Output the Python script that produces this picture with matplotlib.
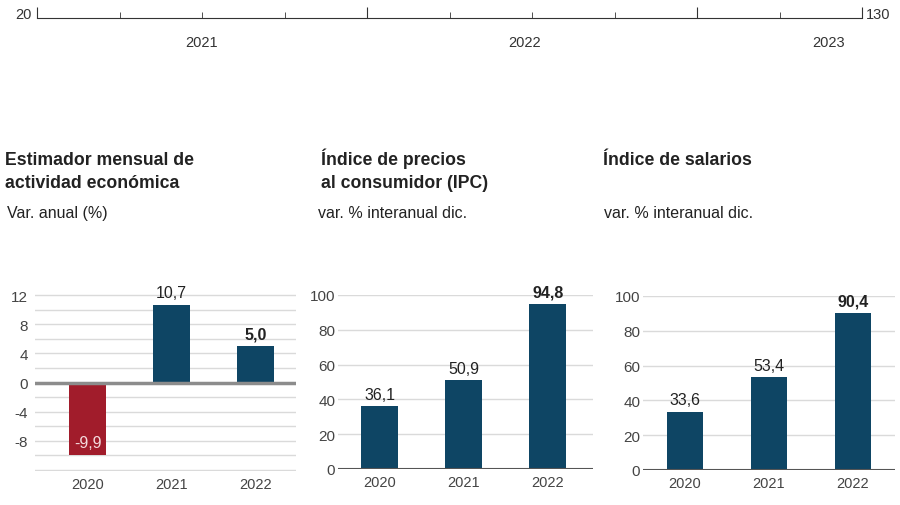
import numpy as np
import matplotlib.pyplot as plt

plt.rcParams['font.family'] = ['Liberation Sans', 'DejaVu Sans']
plt.rcParams['axes.unicode_minus'] = False

# datos
years = ['2020', '2021', '2022']
emae = [-9.9, 10.7, 5.0]
ipc = [36.1, 50.9, 94.8]
salarios = [33.6, 53.4, 90.4]

# escala superior
timeline_ticks = [20, 31, 42, 53, 64, 75, 86, 97, 108, 119, 130]
timeline_major = [20, 64, 108, 130]
timeline_years = ['2021', '2022', '2023']
timeline_year_pos = [42, 85, 125.5]

BLUE = '#0e4564'
RED = '#a11c2b'
GRID = '#dadada'
TXT = '#222222'
TICK = '#444444'

W, H = 900, 506
fig = plt.figure(figsize=(W / 100, H / 100), dpi=100)


def px_axes(left, top, right, bottom):
    return fig.add_axes([left / W, 1 - bottom / H, (right - left) / W, (bottom - top) / H])


def fmt(v):
    return f'{v:.1f}'.replace('.', ',')


# --- escala superior ---
ax0 = px_axes(37, 5, 862, 19)
ax0.set_xlim(20, 130)
ax0.set_ylim(0, 1)
for s in ['top', 'left', 'right']:
    ax0.spines[s].set_visible(False)
ax0.spines['bottom'].set_color('#333333')
ax0.set_yticks([])
ax0.set_xticks(timeline_major)
ax0.set_xticks(timeline_ticks, minor=True)
ax0.tick_params(axis='x', which='major', direction='in', length=8, color='#333333', labelbottom=False)
ax0.tick_params(axis='x', which='minor', direction='in', length=4, color='#333333')
ax0.annotate('20', (20, 0), xycoords=('data', 'axes fraction'), xytext=(-4, 3),
             textcoords='offset points', ha='right', va='center', fontsize=10.5, color='#333333')
ax0.annotate('130', (130, 0), xycoords=('data', 'axes fraction'), xytext=(3, 3),
             textcoords='offset points', ha='left', va='center', fontsize=10.5, color='#333333')
for pos, lbl in zip(timeline_year_pos, timeline_years):
    ax0.annotate(lbl, (pos, 0), xycoords=('data', 'axes fraction'), xytext=(0, -17),
                 textcoords='offset points', ha='center', va='center', fontsize=10.5, color='#333333')


def panel(ax, values, colors, ylim, major, minor, ypad):
    x = np.arange(len(values))
    ax.bar(x, values, width=0.44, color=colors, zorder=3)
    ax.set_ylim(*ylim)
    ax.set_yticks(major)
    ax.set_yticks(minor, minor=True)
    ax.grid(axis='y', which='both', color=GRID, lw=1, zorder=0)
    ax.tick_params(axis='y', which='both', length=0, pad=ypad, labelsize=11, labelcolor=TICK)
    ax.set_xticks(x, years)
    ax.tick_params(axis='x', length=0, pad=4, labelsize=10.5, labelcolor=TICK)
    for s in ax.spines.values():
        s.set_visible(False)


# --- panel 1: EMAE ---
ax1 = px_axes(35, 295, 296, 472)
panel(ax1, emae, [RED, BLUE, BLUE], (-12.15, 12.15), [-8, -4, 0, 4, 8, 12],
      np.arange(-12, 13, 2), 5)
ax1.set_xlim(-0.625, 2.48)
ax1.axhline(0, color='#8c8c8c', lw=2.5, zorder=4)
for i, v in enumerate(emae):
    if v < 0:
        ax1.annotate(fmt(v), (i, v), xytext=(0, 3), textcoords='offset points',
                     ha='center', va='bottom', fontsize=11.5, color='#f4dadd', zorder=5)
    else:
        ax1.annotate(fmt(v), (i, v), xytext=(0, 3), textcoords='offset points',
                     ha='center', va='bottom', fontsize=11.5, color=TXT,
                     fontweight='bold' if i == len(emae) - 1 else 'normal')

# --- panel 2: IPC ---
ax2 = px_axes(338, 296, 593, 470)
panel(ax2, ipc, [BLUE] * 3, (0, 100), [0, 20, 40, 60, 80, 100], [], 2)
ax2.set_xlim(-0.5, 2.54)
ax2.axhline(0, color='#555555', lw=1.5, zorder=4)

# --- panel 3: salarios ---
ax3 = px_axes(643, 297, 895, 471)
panel(ax3, salarios, [BLUE] * 3, (0, 100), [0, 20, 40, 60, 80, 100], [], 2)
ax3.set_xlim(-0.5, 2.5)
ax3.axhline(0, color='#555555', lw=1.5, zorder=4)

for ax, vals in [(ax2, ipc), (ax3, salarios)]:
    for i, v in enumerate(vals):
        ax.annotate(fmt(v), (i, v), xytext=(0, 3), textcoords='offset points',
                    ha='center', va='bottom', fontsize=11.5, color=TXT,
                    fontweight='bold' if i == len(vals) - 1 else 'normal')

# --- titulos ---
def ftext(x, y, s, **kw):
    fig.text(x / W, 1 - y / H, s, va='baseline', ha='left', color=TXT, **kw)


ftext(5, 165, 'Estimador mensual de', fontsize=12.7, fontweight='bold')
ftext(5, 188, 'actividad económica', fontsize=12.7, fontweight='bold')
ftext(7, 218, 'Var. anual (%)', fontsize=11.5)
ftext(321, 165, 'Índice de precios', fontsize=12.7, fontweight='bold')
ftext(321, 188, 'al consumidor (IPC)', fontsize=12.7, fontweight='bold')
ftext(318, 218, 'var. % interanual dic.', fontsize=11.5)
ftext(603, 165, 'Índice de salarios', fontsize=12.7, fontweight='bold')
ftext(604, 218, 'var. % interanual dic.', fontsize=11.5)

fig.savefig('out.png', dpi=100)
